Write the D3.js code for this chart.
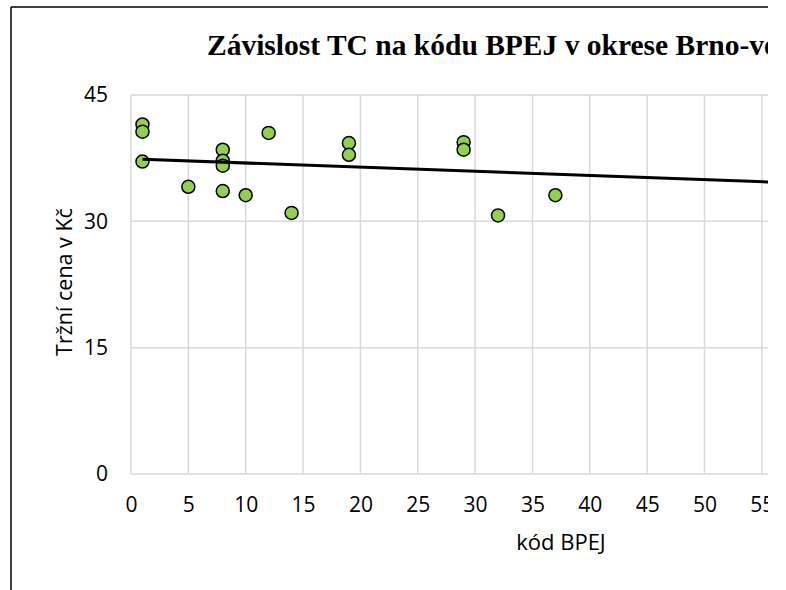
<!DOCTYPE html>
<html lang="cs">
<head>
<meta charset="UTF-8">
<title>Závislost TC na kódu BPEJ</title>
<script src="https://cdnjs.cloudflare.com/ajax/libs/d3/7.8.5/d3.min.js"></script>
<style>
  body { margin: 0; background: #fff; }
  svg { display: block; }
  .tick text { font-family: "Open Sans", sans-serif; }
</style>
</head>
<body>
<svg class="chart"></svg>
<script>
// data
const bpej  = [1, 1, 1, 5, 8, 8, 8, 8, 10, 12, 14, 19, 19, 29, 29, 32, 37];
const cena  = [41.5, 40.65, 37.1, 34.1, 38.5, 37.2, 36.6, 33.6, 33.1, 40.5, 31.0, 39.3, 37.9, 39.4, 38.5, 30.7, 33.1];
const xTicks = [0, 5, 10, 15, 20, 25, 30, 35, 40, 45, 50, 55, 60, 65, 70, 75];
const yTicks = [0, 15, 30, 45];
// linear trend
const trendIntercept = 37.42,
      trendSlope = -0.0494;
const trendX = [1, 75];

const points = bpej.map((x, i) => ({x: x, y: cena[i]}));

const width = 768, height = 590;
const svg = d3.select('.chart').attr('width', width).attr('height', height);

// frame (right and bottom edges fall outside the picture)
svg.append('line').attr('x1', 11).attr('x2', width + 5).attr('y1', 7).attr('y2', 7)
   .attr('stroke', '#000').attr('stroke-width', 1.5);
svg.append('line').attr('x1', 11).attr('x2', 11).attr('y1', 7).attr('y2', height + 5)
   .attr('stroke', '#000').attr('stroke-width', 1.5);

const xScale = d3.scaleLinear().domain([0, 75]).range([131, 131 + 75 * 11.47]);
const yScale = d3.scaleLinear().domain([0, 45]).range([474, 95]);

// grid
const grid = svg.append('g');
grid.selectAll('.vg').data(xTicks).enter().append('line')
    .attr('x1', d => xScale(d)).attr('x2', d => xScale(d))
    .attr('y1', yScale(45)).attr('y2', yScale(0))
    .attr('stroke', '#d9d9d9').attr('stroke-width', 1.5);
grid.selectAll('.hg').data(yTicks).enter().append('line')
    .attr('x1', xScale(0)).attr('x2', xScale(75))
    .attr('y1', d => yScale(d)).attr('y2', d => yScale(d))
    .attr('stroke', '#d9d9d9').attr('stroke-width', 1.5);

// axes
const xAxis = d3.axisBottom(xScale).tickValues(xTicks).tickSize(0).tickPadding(23);
svg.append('g').attr('transform', `translate(0, ${yScale(0)})`).call(xAxis)
   .call(g => g.select('.domain').remove())
   .selectAll('text').attr('font-size', 21).attr('fill', '#000');

const yAxis = d3.axisLeft(yScale).tickValues(yTicks).tickSize(0).tickPadding(23);
svg.append('g').attr('transform', `translate(${xScale(0)}, 0)`).call(yAxis)
   .call(g => g.select('.domain').remove())
   .selectAll('text').attr('font-size', 21).attr('fill', '#000');

// points
svg.selectAll('circle').data(points).enter().append('circle')
   .attr('cx', d => xScale(d.x))
   .attr('cy', d => yScale(d.y))
   .attr('r', 6.5)
   .attr('fill', '#92d050')
   .attr('stroke', '#000')
   .attr('stroke-width', 1.5);

// trend line
const line = d3.line().x(d => xScale(d)).y(d => yScale(trendIntercept + trendSlope * d));
svg.append('path').datum(trendX).attr('d', line)
   .attr('fill', 'none').attr('stroke', '#000').attr('stroke-width', 3);

// titles
svg.append('text').attr('x', 207).attr('y', 55)
   .attr('font-family', '"Liberation Serif", "Times New Roman", serif')
   .attr('font-weight', 'bold').attr('font-size', 29.5)
   .text('Závislost TC na kódu BPEJ v okrese Brno-venkov');

svg.append('text').attr('x', 561).attr('y', 550).attr('text-anchor', 'middle')
   .attr('font-family', '"Open Sans", sans-serif').attr('font-size', 22)
   .text('kód BPEJ');

svg.append('text').attr('transform', 'translate(72, 282) rotate(-90)').attr('text-anchor', 'middle')
   .attr('font-family', '"Open Sans", sans-serif').attr('font-size', 21.5)
   .text('Tržní cena v Kč');
</script>
</body>
</html>
